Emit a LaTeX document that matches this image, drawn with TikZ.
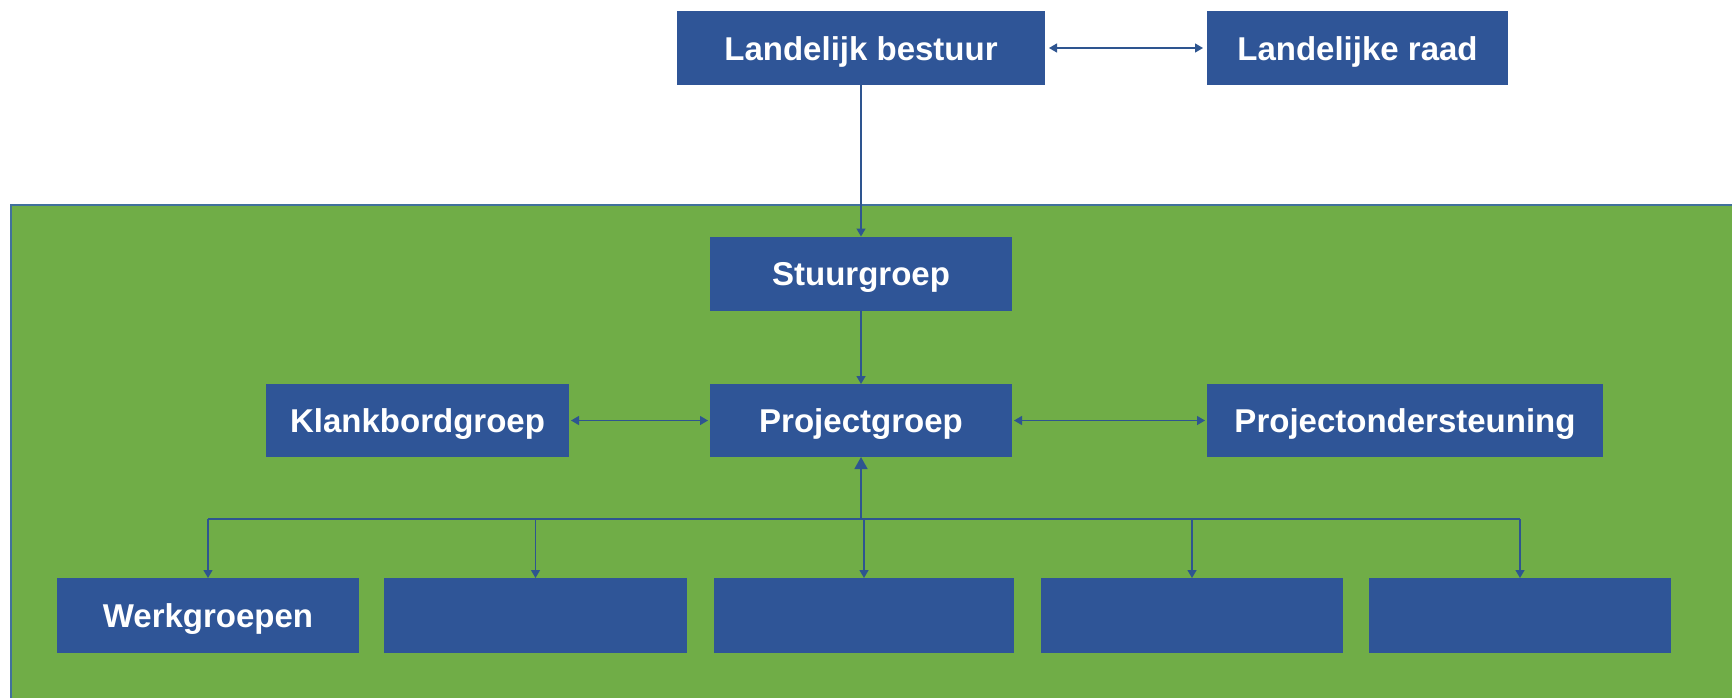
\documentclass[tikz,border=0pt]{standalone}
\usepackage{fontspec}
\setmainfont{Liberation Sans}
\usetikzlibrary{arrows.meta}
\definecolor{boxblue}{HTML}{2F5597}
\definecolor{linkblue}{HTML}{2E5590}
\definecolor{bggreen}{HTML}{70AD47}
\definecolor{frameblue}{HTML}{41719C}
\tikzset{
  orgbox/.style={rectangle, fill=boxblue, inner sep=0pt, outer sep=0pt,
    text=white, font=\fontsize{33}{40}\selectfont\bfseries,
    text height=24pt, text depth=0pt,
    minimum height=74pt},
  link/.style={draw=linkblue, line width=1.3pt},
  tip/.style={-{Triangle[width=9pt,length=8pt]}},
  twotip/.style={{Triangle[width=9pt,length=8pt]}-{Triangle[width=9pt,length=8pt]}},
  bigtip/.style={-{Triangle[width=13pt,length=12pt]}}
}
\begin{document}
\begin{tikzpicture}[x=1pt,y=-1pt]
\useasboundingbox (0,0) rectangle (1732,697);
\fill[white] (0,0) rectangle (1732,697);
\filldraw[fill=bggreen, draw=frameblue, line width=1.5pt] (11,205) rectangle (1740,705);

\node[orgbox, minimum width=368pt] (lb) at (861,48) {Landelijk bestuur};
\node[orgbox, minimum width=301pt] (lr) at (1357.5,48) {Landelijke raad};
\node[orgbox, minimum width=302pt] (sg) at (861,273.5) {Stuurgroep};
\node[orgbox, minimum width=302pt, minimum height=73pt] (pg) at (861,420.5) {Projectgroep};
\node[orgbox, minimum width=303pt, minimum height=73pt] (kb) at (417.5,420.5) {Klankbordgroep};
\node[orgbox, minimum width=396pt, minimum height=73pt] (po) at (1405,420.5) {Projectondersteuning};

\node[orgbox, minimum width=302pt, minimum height=75pt] (w1) at (208,615.5) {Werkgroepen};
\node[orgbox, minimum width=303pt, minimum height=75pt] (w2) at (535.5,615.5) {};
\node[orgbox, minimum width=300pt, minimum height=75pt] (w3) at (864,615.5) {};
\node[orgbox, minimum width=302pt, minimum height=75pt] (w4) at (1192,615.5) {};
\node[orgbox, minimum width=302pt, minimum height=75pt] (w5) at (1520,615.5) {};

\coordinate (bus) at (861,519);

\draw[link, twotip] ([xshift=4pt]lb.east) -- ([xshift=-4pt]lr.west);
\draw[link, tip] (lb.south) -- (sg.north);
\draw[link, tip] (sg.south) -- (pg.north);
\draw[link, twotip] ([xshift=2pt]kb.east) -- ([xshift=-2pt]pg.west);
\draw[link, twotip] ([xshift=2pt]pg.east) -- ([xshift=-2pt]po.west);
\draw[link, bigtip] (bus) -- (pg.south);
\draw[link] (bus -| w1.north) -- (bus -| w5.north);
\draw[link, tip] (bus -| w1.north) -- (w1.north);
\draw[link, tip] (bus -| w2.north) -- (w2.north);
\draw[link, tip] (bus -| w3.north) -- (w3.north);
\draw[link, tip] (bus -| w4.north) -- (w4.north);
\draw[link, tip] (bus -| w5.north) -- (w5.north);
\end{tikzpicture}
\end{document}
